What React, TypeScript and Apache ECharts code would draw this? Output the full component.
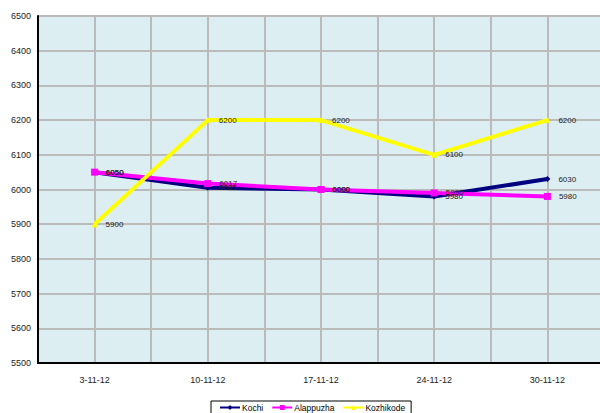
import React, { useEffect, useRef } from "react";
import * as echarts from "echarts";

const categories = ["3-11-12", "10-11-12", "17-11-12", "24-11-12", "30-11-12"];
const kochi = [6050, 6005, 6000, 5980, 6030];
const alappuzha = [6050, 6017, 6000, 5990, 5980];
const kozhikode = [5900, 6200, 6200, 6100, 6200];
const seriesNames = ["Kochi", "Alappuzha", "Kozhikode"];
const yMin = 5500;
const yMax = 6500;
const yStep = 100;

export default function App() {
  const ref = useRef<HTMLDivElement>(null);
  useEffect(() => {
    const chart = echarts.init(ref.current!, null, { renderer: "svg" });
    const font = "Liberation Sans, Arial, sans-serif";
    const mk = (name: string, data: number[], color: string, symbol: string, size: number) => ({
      name,
      type: "line",
      data,
      symbol,
      symbolSize: size,
      showSymbol: true,
      lineStyle: { color, width: 4 },
      itemStyle: { color },
      label: {
        show: true,
        position: "right",
        distance: 8,
        fontSize: 8,
        fontFamily: font,
        color: "#222",
      },
    });
    const gridLine = { color: "#BBB", width: 2 };
    chart.setOption({
      animation: false,
      grid: {
        left: 38,
        right: 6,
        top: 16,
        bottom: 50,
        show: true,
        backgroundColor: "#DDEEF3",
        borderColor: "#999",
        borderWidth: 1,
      },
      xAxis: [
        {
          type: "category",
          data: categories,
          boundaryGap: true,
          axisLine: { lineStyle: { color: "#000", width: 2 } },
          axisTick: { show: false },
          axisLabel: { fontSize: 9, fontFamily: font, color: "#222", margin: 12 },
          splitLine: { show: true, alignWithLabel: true, lineStyle: gridLine },
          z: 3,
        },
        {
          type: "category",
          data: categories,
          boundaryGap: true,
          position: "bottom",
          axisLine: { show: false },
          axisTick: { show: false },
          axisLabel: { show: false },
          splitLine: { show: true, lineStyle: gridLine },
        },
      ],
      yAxis: {
        type: "value",
        min: yMin,
        max: yMax,
        interval: yStep,
        axisLine: { show: true, lineStyle: { color: "#000", width: 2 } },
        axisTick: { show: false },
        axisLabel: {
          fontSize: 9,
          fontFamily: font,
          color: "#222",
          margin: 7,
          formatter: (v: number) => String(v),
        },
        splitLine: { show: true, lineStyle: gridLine },
      },
      legend: {
        data: seriesNames,
        top: 401,
        left: 211,
        itemWidth: 20,
        itemHeight: 6,
        itemGap: 8,
        padding: [2, 6, 2, 8],
        borderColor: "#000",
        borderWidth: 1,
        textStyle: { fontSize: 8.5, fontFamily: font, color: "#000", padding: [0, 0, 0, -3] },
      },
      series: [
        mk(seriesNames[0], kochi, "#000080", "diamond", 6),
        mk(seriesNames[1], alappuzha, "#FF00FF", "rect", 7),
        mk(seriesNames[2], kozhikode, "#FFFF00", "triangle", 6),
      ],
    });
    return () => chart.dispose();
  }, []);
  return (
    <div style={{ width: 600, height: 413, position: "absolute", left: 0, top: 0, overflow: "hidden" }}>
      <div ref={ref} style={{ width: 610, height: 413 }} />
    </div>
  );
}
